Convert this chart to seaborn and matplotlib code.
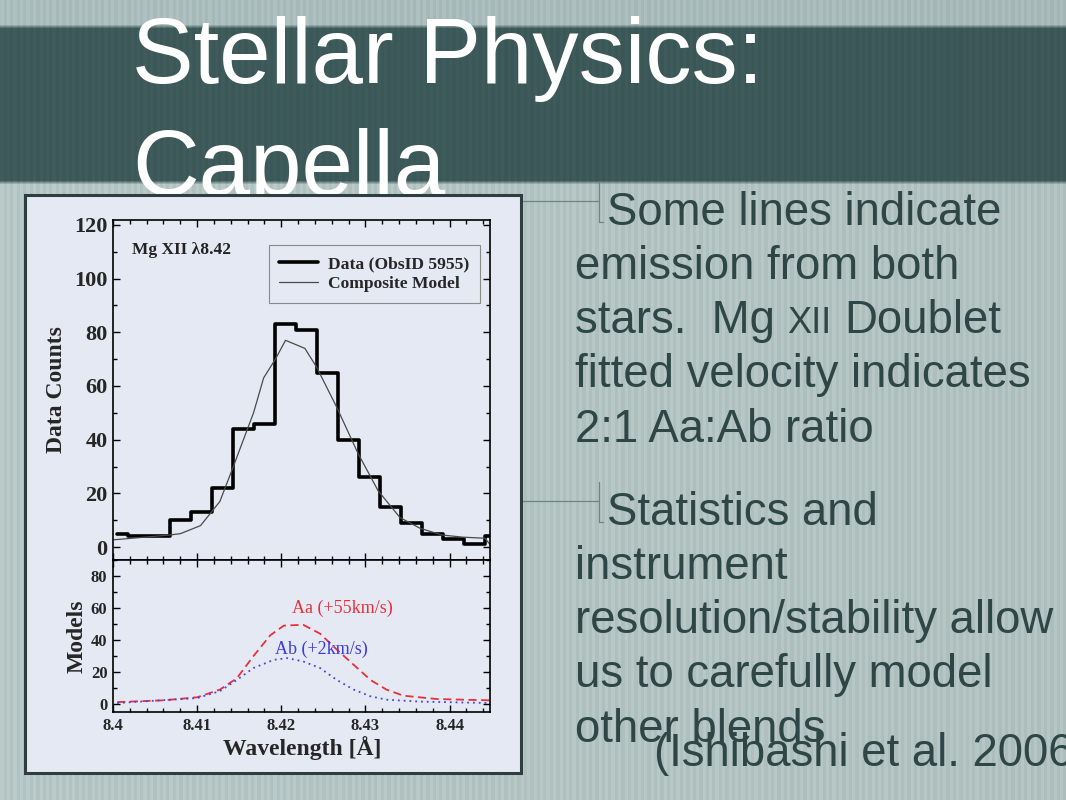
import numpy as np
import pandas as pd
import matplotlib
matplotlib.use("Agg")
import matplotlib.pyplot as plt
import seaborn as sns
from matplotlib.ticker import MultipleLocator
from matplotlib.lines import Line2D
from matplotlib.patches import Rectangle

# data --------------------------------------
bin_centers = [8.40049, 8.40299, 8.40549, 8.40799, 8.41049, 8.41299, 8.41549,
               8.41799, 8.42049, 8.42299, 8.42549, 8.42799, 8.43049, 8.43299,
               8.43549, 8.43799, 8.44049, 8.44299, 8.44549]
data_counts = [5, 4, 4, 10, 13, 22, 44, 46, 83, 81, 65, 40, 26, 15, 9, 5, 3, 1, 4]

model_wl = [8.4000, 8.4067, 8.4080, 8.4104, 8.4127, 8.4143, 8.4167, 8.4179,
            8.4193, 8.4205, 8.4228, 8.4242, 8.4266, 8.4291, 8.4315, 8.4341,
            8.4365, 8.4391, 8.4416, 8.4442, 8.4448]
model_counts = [2.7, 4.5, 5.0, 8.0, 17, 30, 50, 63, 70, 77, 74, 67, 52, 35,
                21, 11, 7, 4.5, 3.7, 3.3, 1.0]

aa_wl = [8.4005, 8.4060, 8.4100, 8.4127, 8.4147, 8.4167, 8.4187, 8.4203,
         8.4226, 8.4246, 8.4266, 8.4286, 8.4306, 8.4325, 8.4345, 8.4385, 8.4448]
aa_model = [1.2, 2.3, 4.2, 9, 16, 30, 43, 49, 49.5, 44, 34, 24.5, 15, 9, 5.2,
            3.1, 2.3]

ab_wl = [8.4005, 8.4100, 8.4127, 8.4147, 8.4167, 8.4191, 8.4207, 8.4226,
         8.4246, 8.4266, 8.4286, 8.4306, 8.4325, 8.4365, 8.4448]
ab_model = [0.6, 3.7, 8, 15, 22.5, 27.6, 28.7, 26.6, 22.5, 15, 9, 4.8, 2.7,
            1.5, 0.6]

x_ticks = [8.40, 8.41, 8.42, 8.43, 8.44]
x_tick_labels = ["8.4", "8.41", "8.42", "8.43", "8.44"]

title_lines = ["Stellar Physics:", "Capella"]
bullet1 = ["emission from both", "stars.  Mg", "XII", "Doublet",
           "fitted velocity indicates", "2:1 Aa:Ab ratio"]
bullet2 = ["instrument", "resolution/stability allow", "us to carefully model",
           "other blends"]

df_data = pd.DataFrame({"wl": bin_centers, "counts": data_counts})
df_model = pd.DataFrame({"wl": model_wl, "counts": model_counts})
df_aa = pd.DataFrame({"wl": aa_wl, "val": aa_model})
df_ab = pd.DataFrame({"wl": ab_wl, "val": ab_model})

W, H = 1066, 800


def fx(x):
    return x / W


def fy(y):
    return 1 - y / H


sns.set_style("ticks")
fig = plt.figure(figsize=(W / 100, H / 100), dpi=100)

# slide background with stripes --------------
rows = np.arange(H)[:, None]
cols = np.arange(W)[None, :]
top_c = np.array([172, 190, 190]) / 255
band_c = np.array([62, 90, 90]) / 255
low_c = np.array([182, 199, 198]) / 255
band = np.clip((rows - 24) / 4, 0, 1) * np.clip((184 - rows) / 4, 0, 1)
upper = (rows < 100).astype(float)
base = (band[..., None] * band_c
        + (1 - band[..., None]) * (upper[..., None] * top_c + (1 - upper[..., None]) * low_c))
stripes = 1 + 0.022 * np.sign(np.sin(2 * np.pi * cols / 6.5)) - 0.025 * cols / W
img = np.clip(base * stripes[..., None], 0, 1)
bg = fig.add_axes([0, 0, 1, 1], zorder=-10)
bg.imshow(img, aspect="auto", interpolation="nearest")
bg.axis("off")

# title
for line, base_y in zip(title_lines, [83, 195]):
    fig.text(fx(132), fy(base_y), line, color="white", fontsize=66.5,
             family="Liberation Sans", va="baseline", ha="left", zorder=3)

# chart card
card_bg = "#e5e9f3"
card = Rectangle((fx(25), fy(773)), (521 - 25) / W, (773 - 195) / H,
                 transform=fig.transFigure, facecolor=card_bg,
                 edgecolor="#2e3d3f", linewidth=2.2, zorder=4)
fig.add_artist(card)

serif = "Liberation Serif"

ax1 = fig.add_axes([fx(113), fy(560), 377 / W, 340 / H], zorder=5)
ax2 = fig.add_axes([fx(113), fy(712), 377 / W, 152 / H], zorder=5, sharex=ax1)
for ax in (ax1, ax2):
    ax.set_facecolor(card_bg)
    for s in ax.spines.values():
        s.set_linewidth(1.2)
        s.set_color("black")
    ax.tick_params(which="both", direction="in", top=True, right=True,
                   width=1.0, color="black", pad=4)
    ax.tick_params(which="major", length=5)
    ax.tick_params(which="minor", length=3)

sns.lineplot(data=df_data, x="wl", y="counts", ax=ax1, color="black",
             lw=2.6, drawstyle="steps-mid")
sns.lineplot(data=df_model, x="wl", y="counts", ax=ax1, color="#4a4a4a", lw=0.9)

ax1.set_xlim(8.4, 8.4448)
ax1.set_ylim(-4.8, 121.8)
ax1.yaxis.set_major_locator(MultipleLocator(20))
ax1.yaxis.set_minor_locator(MultipleLocator(10))
ax1.xaxis.set_major_locator(MultipleLocator(0.01))
ax1.xaxis.set_minor_locator(MultipleLocator(0.002))
ax1.tick_params(labelbottom=False)
for lab in ax1.get_yticklabels():
    lab.set_fontfamily(serif)
    lab.set_fontweight("bold")
    lab.set_fontsize(16)
ax1.set_xlabel("")
ax1.set_ylabel("Data Counts", family=serif, fontweight="bold", fontsize=17,
               va="center")
ax1.yaxis.set_label_coords((57 - 113) / 377, 0.5)
ax1.text(8.40226, 110.7, "Mg XII \u03bb8.42", family=serif, fontweight="bold",
         fontsize=12.5, va="center", ha="left", color="#222222")

handles = [Line2D([], [], color="black", lw=2.6),
           Line2D([], [], color="#4a4a4a", lw=0.9)]
leg = ax1.legend(handles, ["Data (ObsID 5955)", "Composite Model"],
                 loc="upper right", bbox_to_anchor=(0.973, 0.926),
                 borderaxespad=0, fancybox=False, framealpha=1,
                 facecolor=card_bg, edgecolor="#8a8a8a", handlelength=2.2,
                 handletextpad=0.6, labelspacing=0.22, borderpad=0.6,
                 prop={"family": serif, "weight": "bold", "size": 12.6})
leg.get_frame().set_linewidth(0.8)

sns.lineplot(data=df_aa, x="wl", y="val", ax=ax2, color="#e8303c", lw=1.3,
             linestyle=(0, (4.5, 2.5)))
sns.lineplot(data=df_ab, x="wl", y="val", ax=ax2, color="#4444e0", lw=1.3,
             linestyle=(0, (1, 2.2)))
ax2.set_ylim(-5, 90)
ax2.set_xlim(8.4, 8.4448)
ax2.yaxis.set_major_locator(MultipleLocator(20))
ax2.yaxis.set_minor_locator(MultipleLocator(10))
ax2.set_xticks(x_ticks)
ax2.set_xticklabels(x_tick_labels)
ax2.xaxis.set_minor_locator(MultipleLocator(0.002))
for lab in ax2.get_xticklabels() + ax2.get_yticklabels():
    lab.set_fontfamily(serif)
    lab.set_fontweight("bold")
    lab.set_fontsize(12)
ax2.set_ylabel("Models", family=serif, fontweight="bold", fontsize=17,
               va="center")
ax2.yaxis.set_label_coords((77 - 113) / 377, 0.5)
ax2.set_xlabel("Wavelength [\u00c5]", family=serif, fontweight="bold",
               fontsize=17, va="center")
ax2.xaxis.set_label_coords(0.501, (712 - 748) / 152)
ax2.text(8.42125, 60, "Aa (+55km/s)", family=serif, fontsize=13,
         color="#e8303c", va="center", ha="left")
ax2.text(8.41927, 34, "Ab (+2km/s)", family=serif, fontsize=13,
         color="#3a3ae6", va="center", ha="left")

# bullet text -----------------
txt_c = "#2f4646"
bsize = 32.8
body = dict(family="Liberation Sans", fontsize=bsize, color=txt_c,
            va="baseline", ha="left", zorder=3)
fig.text(fx(607), fy(225), "Some lines indicate", **body)
fig.text(fx(575), fy(279), bullet1[0], **body)
t1 = fig.text(fx(575), fy(333), bullet1[1], **body)
t2 = bg.annotate(bullet1[2], xy=(1, 0), xycoords=t1, xytext=(9.1, 1.4),
                 textcoords="offset points", family="Liberation Sans",
                 fontsize=26, color=txt_c, va="bottom", ha="left")
bg.annotate(bullet1[3], xy=(1, 0), xycoords=t2, xytext=(9.1, -1.4),
            textcoords="offset points", family="Liberation Sans",
            fontsize=bsize, color=txt_c, va="bottom", ha="left")
fig.text(fx(575), fy(387), bullet1[4], **body)
fig.text(fx(575), fy(442), bullet1[5], **body)

fig.text(fx(607), fy(525), "Statistics and", **body)
for line, by in zip(bullet2, [579, 633, 687, 742]):
    fig.text(fx(575), fy(by), line, **body)
fig.text(fx(654), fy(766), "(Ishibashi et al. 2006", **body)

# bullet connector lines
for y0 in (201, 501):
    kw = dict(transform=fig.transFigure, color="#6f8585", lw=0.9, zorder=3)
    fig.add_artist(Line2D([fx(521), fx(599)], [fy(y0), fy(y0)], **kw))
    fig.add_artist(Line2D([fx(599), fx(599)], [fy(y0 - 19), fy(y0 + 21)], **kw))
    fig.add_artist(Line2D([fx(599), fx(603)], [fy(y0 + 21), fy(y0 + 21)], **kw))

fig.savefig("out.png", dpi=100)
